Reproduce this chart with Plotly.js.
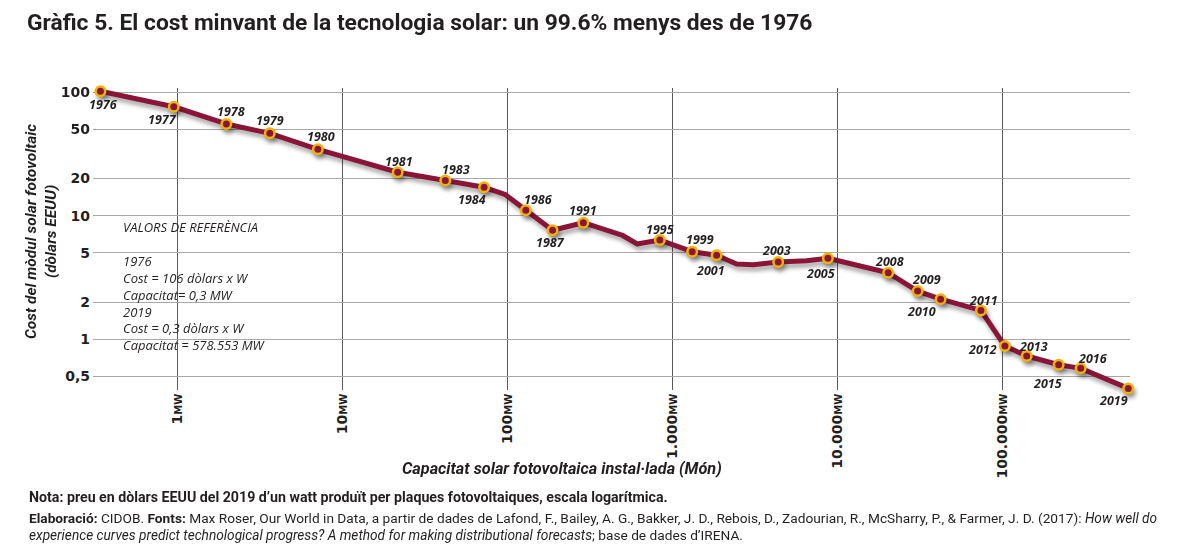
<!DOCTYPE html>
<html>
<head>
<meta charset="utf-8">
<script src="https://cdn.plot.ly/plotly-3.0.1.min.js"></script>
<style>
  html, body { margin: 0; padding: 0; background: #fff; }
  #chart { width: 1188px; height: 552px; }
</style>
</head>
<body>
<div id="chart"></div>
<script>
// ---- Data ----
const yearLabels = ['1976','1977','1978','1979','1980','1981','1983','1984','','1986','1987','1991','','','','1995','1999','2001','','','2003','','2005','2008','2009','2010','2011','2012','2013','2015','2016','2019'];
const capacityMW = [0.34, 0.946, 1.97, 3.61, 7.06, 21.5, 41.8, 71.8, 95.9, 128.5, 186.6, 286.8, 433, 491, 608, 834, 1309, 1841, 2432, 3069, 4348, 6460, 8697, 20180, 30410, 41910, 73550, 102800, 139300, 217700, 295800, 574500];
const costUSD = [102, 76.4, 55.4, 46.5, 34.5, 22.5, 19.3, 17.0, 14.9, 11.1, 7.62, 8.78, 7.31, 6.98, 5.90, 6.35, 5.11, 4.78, 4.06, 4.01, 4.22, 4.32, 4.52, 3.45, 2.45, 2.11, 1.71, 0.879, 0.730, 0.620, 0.580, 0.399];

const yTickVals = [0.5, 1, 2, 5, 10, 20, 50, 100];
const yTickText = ['0,5', '1', '2', '5', '10', '20', '50', '100'];
const xTickVals = [1, 10, 100, 1000, 10000, 100000];
const xTickNums = ['1', '10', '100', '1.000', '10.000', '100.000'];
const xTickUnit = 'MW';

// ---- Label offsets (pixels, style only) ----
const labelOffsets = {
  '1976': [3, 13], '1977': [-11, 13], '1978': [5, -12], '1979': [0, -13], '1980': [3, -13],
  '1981': [1, -11], '1983': [11, -11], '1984': [-12, 12], '1986': [13, -11], '1987': [-2, 12],
  '1991': [0, -12], '1995': [0, -11], '1999': [8, -12], '2001': [-6, 15], '2003': [-2, -11],
  '2005': [-7, 15], '2008': [1, -11], '2009': [9, -12], '2010': [-19, 12], '2011': [3, -10],
  '2012': [-22, 3], '2013': [7, -10], '2015': [-11, 19], '2016': [12, -10], '2019': [-15, 12]
};

const MAROON = '#8a1538';
const GOLD = '#f2b300';
const INK = '#231f20';

// Subset of labelled (marked) points
const mx = [], my = [], mlab = [];
yearLabels.forEach((l, i) => { if (l) { mx.push(capacityMW[i]); my.push(costUSD[i]); mlab.push(l); } });

const traces = [
  {
    x: capacityMW, y: costUSD, type: 'scatter', mode: 'lines', cliponaxis: false,
    line: { color: MAROON, width: 5 }, hoverinfo: 'skip', showlegend: false
  },
  {
    x: mx, y: my, text: mlab, type: 'scatter', mode: 'markers', cliponaxis: false,
    marker: { color: MAROON, size: 9.5, line: { color: GOLD, width: 2.5 } },
    showlegend: false
  }
];

// Plot-area geometry in pixels
const L = 93, R = 1130, T = 88, B = 390;
const W = 1188, H = 552;
const px2x = p => (p - L) / (R - L);
const px2y = p => (B - p) / (B - T);

const annotations = [];
// Year labels
mlab.forEach((l, i) => {
  const off = labelOffsets[l] || [0, -12];
  annotations.push({
    x: Math.log10(mx[i]), y: Math.log10(my[i]), xref: 'x', yref: 'y',
    text: l, showarrow: false, xshift: off[0], yshift: -off[1],
    font: { family: 'Open Sans', size: 12.5, color: INK, weight: 'bold', style: 'italic' }
  });
});

// Reference values box text
annotations.push({
  xref: 'paper', yref: 'paper', x: px2x(121), y: px2y(286), xanchor: 'left', yanchor: 'middle', align: 'left',
  showarrow: false,
  text: 'VALORS DE REFERÈNCIA<br><br>1976<br>Cost = 106 dòlars x W<br>Capacitat= 0,3 MW<br>2019<br>Cost = 0,3 dòlars x W<br>Capacitat = 578.553 MW',
  font: { family: 'Open Sans', size: 13, color: INK, style: 'italic' }
});

// Y axis title
annotations.push({
  xref: 'paper', yref: 'paper', x: px2x(41), y: px2y(232), xanchor: 'center', yanchor: 'middle',
  showarrow: false, textangle: -90,
  text: 'Cost del mòdul solar fotovoltaic<br>(dòlars EEUU)',
  font: { family: 'Roboto', size: 15.5, color: INK, weight: 'bold', style: 'italic' }
});

// X axis title
annotations.push({
  xref: 'paper', yref: 'paper', x: px2x(562), y: px2y(468), xanchor: 'center', yanchor: 'middle',
  showarrow: false,
  text: 'Capacitat solar fotovoltaica instal·lada (Món)',
  font: { family: 'Roboto', size: 16.3, color: INK, weight: 'bold', style: 'italic' }
});

// Footnotes
annotations.push({
  xref: 'paper', yref: 'paper', x: px2x(27), y: px2y(497), xanchor: 'left', yanchor: 'middle', showarrow: false,
  text: '<b>Nota: preu en dòlars EEUU del 2019 d’un watt produït per plaques fotovoltaiques, escala logarítmica.</b>',
  font: { family: 'Roboto', size: 14.2, color: INK }
});
annotations.push({
  xref: 'paper', yref: 'paper', x: px2x(27), y: px2y(518), xanchor: 'left', yanchor: 'middle', showarrow: false,
  text: '<b>Elaboració:</b> CIDOB. <b>Fonts:</b> Max Roser, Our World in Data, a partir de dades de Lafond, F., Bailey, A. G., Bakker, J. D., Rebois, D., Zadourian, R., McSharry, P., &amp; Farmer, J. D. (2017): <i>How well do</i>',
  font: { family: 'Roboto', size: 13.7, color: INK }
});
annotations.push({
  xref: 'paper', yref: 'paper', x: px2x(27), y: px2y(535), xanchor: 'left', yanchor: 'middle', showarrow: false,
  text: '<i>experience curves predict technological progress? A method for making distributional forecasts</i>; base de dades d’IRENA.',
  font: { family: 'Roboto', size: 13.7, color: INK }
});

const layout = {
  width: W, height: H,
  margin: { l: L, r: W - R, t: T, b: H - B },
  paper_bgcolor: '#fff', plot_bgcolor: '#fff',
  title: {
    text: '<b>Gràfic 5. El cost minvant de la tecnologia solar: un 99.6% menys des de 1976</b>',
    xref: 'container', yref: 'container', x: 27 / W, xanchor: 'left', y: 1 - 22 / H, yanchor: 'middle',
    font: { family: 'Roboto', size: 22.8, color: INK, weight: 'bold' }
  },
  xaxis: {
    type: 'log', range: [Math.log10(capacityMW[0]) - 0.045, 5.770],
    tickvals: xTickVals,
    ticktext: xTickNums.map(n => n + '<span style="font-size:10px">' + xTickUnit + '</span>'),
    tickangle: -90, ticks: '', showline: false, zeroline: false,
    showgrid: true, gridcolor: '#5a5a5a', gridwidth: 1,
    tickfont: { family: 'DejaVu Sans', size: 14, color: INK, weight: 'bold' }
  },
  yaxis: {
    type: 'log', range: [-0.412, 2.035],
    tickvals: yTickVals, ticktext: yTickText,
    ticks: '', showline: false, zeroline: false,
    showgrid: true, gridcolor: '#a8a8a8', gridwidth: 1,
    ticklabelstandoff: 2,
    tickfont: { family: 'DejaVu Sans', size: 14, color: INK, weight: 'bold' }
  },
  shapes: [{
    type: 'rect', xref: 'paper', yref: 'paper', layer: 'between',
    x0: px2x(115), x1: px2x(280), y0: px2y(355), y1: px2y(205),
    fillcolor: '#ffffff', line: { width: 0 }
  }],
  annotations: annotations,
  hovermode: false
};

Plotly.newPlot('chart', traces, layout, { displayModeBar: false, staticPlot: true }).then(() => {
  document.querySelectorAll('#chart .scatterlayer .trace').forEach(g => {
    g.style.filter = 'drop-shadow(2px 4px 2px rgba(0,0,0,0.35))';
  });
  document.querySelectorAll('#chart .scatterlayer .js-line').forEach(p => {
    p.style.strokeLinejoin = 'round';
    p.style.strokeLinecap = 'round';
  });
});
</script>
</body>
</html>
